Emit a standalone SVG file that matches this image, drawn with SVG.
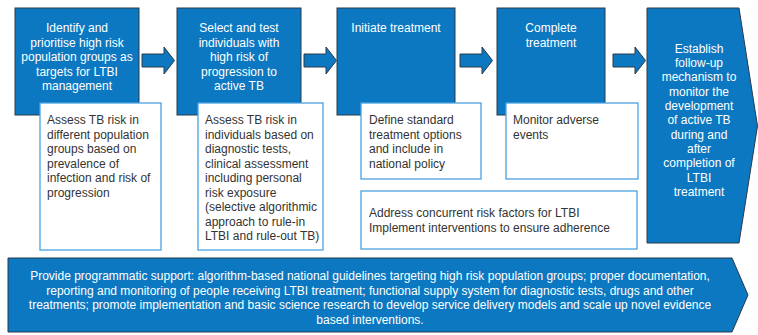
<svg xmlns="http://www.w3.org/2000/svg" width="758" height="335" viewBox="0 0 758 335">
<style>
.blue{fill:#0b78c1;stroke:#2b3a4a;stroke-width:1}
.white{fill:#ffffff;stroke:#4aa3e0;stroke-width:1.3}
.arrow{fill:#0b78c1;stroke:#2b3a4a;stroke-width:1}
.tw{font-family:"Liberation Sans",Arial,sans-serif;font-size:12px;fill:#ffffff;text-anchor:middle}
.td{font-family:"Liberation Sans",Arial,sans-serif;font-size:12px;fill:#333333}
</style>
<rect width="758" height="335" fill="#ffffff"/>
<g id="connectors">
<path class="arrow" d="M142,54 H164 V47 L174.5,60.5 L164,74 V67 H142 Z"/>
<path class="arrow" d="M304,54 H326 V47 L336.5,60.5 L326,74 V67 H304 Z"/>
<path class="arrow" d="M460,54 H482 V47 L492.5,60.5 L482,74 V67 H460 Z"/>
<path class="arrow" d="M613,54 H635 V47 L645.5,60.5 L635,74 V67 H613 Z"/>
</g>
<g id="step1">
<rect class="blue" x="15" y="8" width="124" height="107"/>
<text class="tw" x="77"><tspan x="77" y="32">Identify and</tspan><tspan x="77" y="46.5">prioritise high risk</tspan><tspan x="77" y="61">population groups as</tspan><tspan x="77" y="75.5">targets for LTBI</tspan><tspan x="77" y="90">management</tspan></text>
</g>
<g id="detail1">
<rect class="white" x="40" y="103" width="121" height="147"/>
<text class="td"><tspan x="47" y="124">Assess TB risk in</tspan><tspan x="47" y="138.5">different population</tspan><tspan x="47" y="153">groups based on</tspan><tspan x="47" y="167.5">prevalence of</tspan><tspan x="47" y="182">infection and risk of</tspan><tspan x="47" y="196.5">progression</tspan></text>
</g>
<g id="step2">
<rect class="blue" x="177" y="8" width="124" height="107"/>
<text class="tw"><tspan x="239" y="32">Select and test</tspan><tspan x="239" y="46.5">individuals with</tspan><tspan x="239" y="61">high risk of</tspan><tspan x="239" y="75.5">progression to</tspan><tspan x="239" y="90">active TB</tspan></text>
</g>
<g id="detail2">
<rect class="white" x="198" y="103" width="125" height="147"/>
<text class="td"><tspan x="205" y="124">Assess TB risk in</tspan><tspan x="205" y="138.5">individuals based on</tspan><tspan x="205" y="153">diagnostic tests,</tspan><tspan x="205" y="167.5">clinical assessment</tspan><tspan x="205" y="182">including personal</tspan><tspan x="205" y="196.5">risk exposure</tspan><tspan x="205" y="211">(selective algorithmic</tspan><tspan x="205" y="225.5">approach to rule-in</tspan><tspan x="205" y="240">LTBI and rule-out TB)</tspan></text>
</g>
<g id="step3">
<rect class="blue" x="337" y="8" width="118" height="107"/>
<text class="tw"><tspan x="396" y="32">Initiate treatment</tspan></text>
</g>
<g id="detail3">
<rect class="white" x="361" y="103" width="120" height="76"/>
<text class="td"><tspan x="369" y="124">Define standard</tspan><tspan x="369" y="138.5">treatment options</tspan><tspan x="369" y="153">and include in</tspan><tspan x="369" y="167.5">national policy</tspan></text>
</g>
<g id="step4">
<rect class="blue" x="497" y="8" width="108" height="107"/>
<text class="tw"><tspan x="551" y="32">Complete</tspan><tspan x="551" y="46.5">treatment</tspan></text>
</g>
<g id="detail4">
<rect class="white" x="506" y="103" width="132" height="76"/>
<text class="td"><tspan x="513" y="124">Monitor adverse</tspan><tspan x="513" y="138.5">events</tspan></text>
</g>
<g id="adherence">
<rect class="white" x="361" y="191" width="276" height="58"/>
<text class="td"><tspan x="369" y="216.5">Address concurrent risk factors for LTBI</tspan><tspan x="369" y="231.5">Implement interventions to ensure adherence</tspan></text>
</g>
<g id="step5">
<path class="blue" d="M647,8 H739 L757.5,126 L739,243 H647 Z"/>
<text class="tw"><tspan x="699" y="52.5">Establish</tspan><tspan x="699" y="67">follow-up</tspan><tspan x="699" y="81">mechanism to</tspan><tspan x="699" y="95.5">monitor the</tspan><tspan x="699" y="109.5">development</tspan><tspan x="699" y="124">of active TB</tspan><tspan x="699" y="138.5">during and</tspan><tspan x="699" y="152.5">after</tspan><tspan x="699" y="167">completion of</tspan><tspan x="699" y="181.5">LTBI</tspan><tspan x="699" y="196">treatment</tspan></text>
</g>
<g id="support">
<path class="blue" d="M8,258 H732 L748,295 L732,332 H8 Z"/>
<text class="tw"><tspan x="370" y="280">Provide programmatic support: algorithm-based national guidelines targeting high risk population groups; proper documentation,</tspan><tspan x="370" y="294.5">reporting and monitoring of people receiving LTBI treatment; functional supply system for diagnostic tests, drugs and other</tspan><tspan x="370" y="309">treatments; promote implementation and basic science research to develop service delivery models and scale up novel evidence</tspan><tspan x="370" y="323.5">based interventions.</tspan></text>
</g>
</svg>
